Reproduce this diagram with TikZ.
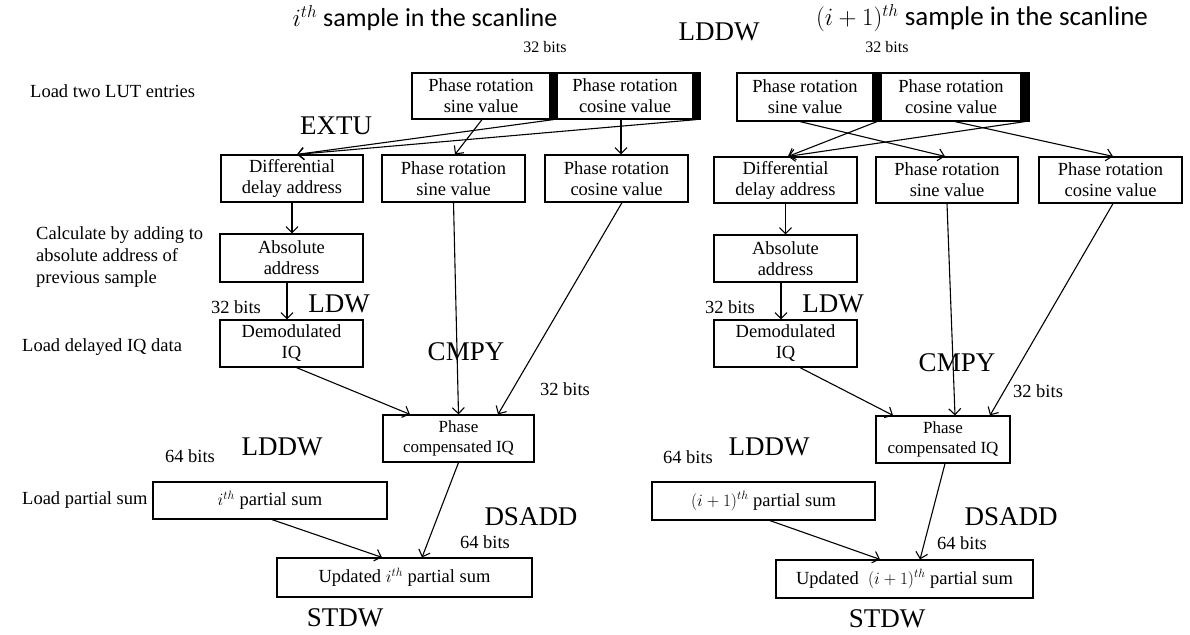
\documentclass[tikz,border=0pt]{standalone}
\usepackage{fontspec}
\setmainfont{Liberation Serif}
\newfontfamily\calfont{Carlito}
\usetikzlibrary{arrows.meta}
\tikzset{
  box/.style={draw, line width=1.2pt, inner sep=0pt, align=center, font=\fontsize{18.5pt}{21pt}\selectfont},
  bar/.style={draw, fill=black, line width=1.2pt, inner sep=0pt},
  arr/.style={line width=1.1pt, -{Straight Barb[length=6pt,width=12pt,line width=1.1pt]}},
  lbl/.style={inner sep=0pt, font=\fontsize{18.5pt}{22pt}\selectfont},
  sml/.style={inner sep=0pt, font=\fontsize{16pt}{18pt}\selectfont},
  op/.style={inner sep=0pt, font=\fontsize{27pt}{30pt}\selectfont},
  ttl/.style={inner sep=0pt, font=\calfont\fontsize{26pt}{30pt}\selectfont}
}
\begin{document}
\begin{tikzpicture}[x=1pt,y=-1pt]
\useasboundingbox[fill=white] (0,0) rectangle (1190,634);
% titles
\node[ttl] (t1) at (425,18) {$i^{th}$ sample in the scanline};
\node[ttl, font=\calfont\fontsize{27pt}{30pt}\selectfont] (t2) at (982,18) {$(i+1)^{th}$ sample in the scanline};
\node[op] (lddwT) at (719,32) {LDDW};
\node[sml] (b32a) at (545,47) {32 bits};
\node[sml] (b32b) at (887,47) {32 bits};
\node[lbl, anchor=west] (lut) at (30,91) {Load two LUT entries};
% ---------- left panel ----------
\node[box, minimum width=138pt, minimum height=46pt] (lSin) at (481,96) {Phase rotation\\sine value};
\node[bar, minimum width=7pt, minimum height=46pt] (lBar1) at (553.5,96) {};
\node[box, minimum width=136pt, minimum height=46pt] (lCos) at (625,96) {Phase rotation\\cosine value};
\node[bar, minimum width=7pt, minimum height=46pt] (lBar2) at (696.5,96) {};
\node[op] (extu) at (336,126) {EXTU};
\node[box, minimum width=142pt, minimum height=47pt] (lDiff) at (292,178.5) {Differential\\delay address};
\node[box, minimum width=143pt, minimum height=47pt] (lSinM) at (453.5,178.5) {Phase rotation\\sine value};
\node[box, minimum width=143pt, minimum height=47pt] (lCosM) at (616.5,178.5) {Phase rotation\\cosine value};
\node[lbl, anchor=west, align=left] (calc) at (36,257) {Calculate by adding to\\absolute address of\\previous sample};
\node[box, minimum width=143pt, minimum height=48pt] (lAbs) at (291.5,258) {Absolute\\address};
\node[lbl] (l32a) at (236,307) {32 bits};
\node[op] (lldw) at (339,304) {LDW};
\node[box, minimum width=143pt, minimum height=47pt] (lDem) at (291.5,343.5) {Demodulated\\IQ};
\node[lbl, anchor=west] (ldq) at (22,347) {Load delayed IQ data};
\node[op] (lcmpy) at (466,352) {CMPY};
\node[lbl] (l32b) at (565,389) {32 bits};
\node[box, minimum width=151pt, minimum height=47pt, font=\fontsize{17pt}{20pt}\selectfont] (lPC) at (458.5,438.5) {Phase\\compensated IQ};
\node[op] (llddw) at (282,447) {LDDW};
\node[lbl] (l64a) at (190,456) {64 bits};
\node[lbl, anchor=west] (lps) at (22,500) {Load partial sum};
\node[box, minimum width=234pt, minimum height=37pt] (lPS) at (270,500.5) {$i^{th}$ partial sum};
\node[op] (ldsadd) at (531,517) {DSADD};
\node[lbl] (l64b) at (485,542) {64 bits};
\node[box, minimum width=255pt, minimum height=39pt] (lUpd) at (404.5,577.5) {Updated $i^{th}$ partial sum};
\node[op] (lstdw) at (345,618) {STDW};
% ---------- right panel ----------
\node[box, minimum width=136pt, minimum height=48pt] (rSin) at (805,97) {Phase rotation\\sine value};
\node[bar, minimum width=8pt, minimum height=48pt] (rBar1) at (877,97) {};
\node[box, minimum width=140pt, minimum height=48pt] (rCos) at (951,97) {Phase rotation\\cosine value};
\node[bar, minimum width=8pt, minimum height=48pt] (rBar2) at (1025,97) {};
\node[box, minimum width=143pt, minimum height=46pt] (rDiff) at (785.5,180) {Differential\\delay address};
\node[box, minimum width=142pt, minimum height=46pt] (rSinM) at (947,180) {Phase rotation\\sine value};
\node[box, minimum width=143pt, minimum height=46pt] (rCosM) at (1110.5,180) {Phase rotation\\cosine value};
\node[box, minimum width=143pt, minimum height=47pt] (rAbs) at (785.5,258.5) {Absolute\\address};
\node[lbl] (r32a) at (730,307) {32 bits};
\node[op] (rldw) at (833,304) {LDW};
\node[box, minimum width=143pt, minimum height=47pt] (rDem) at (785.5,343.5) {Demodulated\\IQ};
\node[op] (rcmpy) at (957,363) {CMPY};
\node[lbl] (r32b) at (1038,391) {32 bits};
\node[box, minimum width=134pt, minimum height=47pt, font=\fontsize{17pt}{20pt}\selectfont] (rPC) at (943,439.5) {Phase\\compensated IQ};
\node[op] (rlddw) at (769,447) {LDDW};
\node[lbl] (r64a) at (688,457) {64 bits};
\node[box, minimum width=223pt, minimum height=38pt] (rPS) at (763.5,501) {$(i+1)^{th}$ partial sum};
\node[op] (rdsadd) at (1011,517) {DSADD};
\node[lbl] (r64b) at (962,543) {64 bits};
\node[box, minimum width=257pt, minimum height=38pt] (rUpd) at (904.5,579) {Updated ~$(i+1)^{th}$ partial sum};
\node[op] (rstdw) at (887,619) {STDW};
% ---------- left arrows ----------
\draw[arr] ([xshift=1pt]lSin.south) -- ([xshift=1.5pt]lSinM.north);
\draw[arr] (lBar1.south) -- ([xshift=5pt]lDiff.north);
\draw[arr] (lBar2.south) -- ([xshift=5pt]lDiff.north);
\draw[arr] ([xshift=-4pt]lCos.south) -- ([xshift=4.5pt]lCosM.north);
\draw[arr] (lDiff.south) -- (lDiff.south |- lAbs.north);
\draw[arr] ([xshift=-4.5pt]lAbs.south) -- ([xshift=-4.5pt]lDem.north);
\draw[arr] ([xshift=5pt]lDem.south) -- ([xshift=-48.5pt]lPC.north);
\draw[arr] (lSinM.south) -- (lPC.north);
\draw[arr] ([xshift=5.5pt]lCosM.south) -- ([xshift=39.5pt]lPC.north);
\draw[arr] (lPC.south) -- ([xshift=17.5pt]lUpd.north);
\draw[arr] ([xshift=2pt]lPS.south) -- ([xshift=-22.5pt]lUpd.north);
% ---------- right arrows ----------
\draw[arr] ([xshift=-5pt]rSin.south) -- ([xshift=-2pt]rSinM.north);
\draw[arr] (rBar1.south) -- ([xshift=2.5pt]rDiff.north);
\draw[arr] (rBar2.south) -- ([xshift=2.5pt]rDiff.north);
\draw[arr] ([xshift=4pt]rCos.south) -- ([xshift=2.5pt]rCosM.north);
\draw[arr] (rDiff.south) -- (rDiff.south |- rAbs.north);
\draw[arr] ([xshift=-4.5pt]rAbs.south) -- ([xshift=-4.5pt]rDem.north);
\draw[arr] ([xshift=14.5pt]rDem.south) -- ([xshift=-50pt]rPC.north);
\draw[arr] (rSinM.south) -- ([xshift=12pt]rPC.north);
\draw[arr] ([xshift=2.5pt]rCosM.south) -- ([xshift=47pt]rPC.north);
\draw[arr] ([xshift=2pt]rPC.south) -- ([xshift=15.5pt]rUpd.north);
\draw[arr] ([xshift=6.5pt]rPS.south) -- ([xshift=-24.5pt]rUpd.north);
\end{tikzpicture}
\end{document}
